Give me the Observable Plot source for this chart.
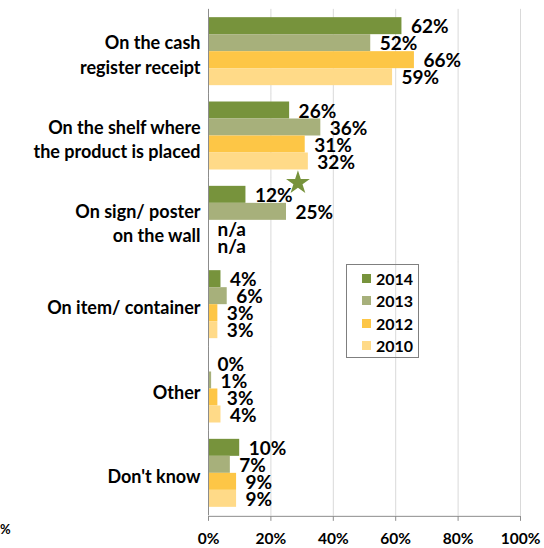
<!DOCTYPE html>
<html>
<head>
<meta charset="utf-8">
<script src="https://cdn.jsdelivr.net/npm/d3@7"></script>
<script src="https://cdn.jsdelivr.net/npm/@observablehq/plot@0.6"></script>
<style>
  html, body { margin: 0; padding: 0; background: #fff; }
  #wrap { position: relative; width: 544px; height: 548px; overflow: hidden; font-family: Lato, "Open Sans", sans-serif; font-weight: bold; }
  #legend { position: absolute; left: 346px; top: 264px; width: 73px; height: 94px; border: 1px solid #7f7f7f; box-sizing: border-box; padding-top: 2px; }
  .item { display: flex; align-items: center; height: 22.5px; font-size: 16px; color: #000; }
  .sw { width: 9px; height: 9px; margin-left: 15px; margin-right: 5px; }
  #stray { position: absolute; left: 0px; top: 521px; font-size: 13px; }
</style>
</head>
<body>
<div id="wrap">
  <div id="chart"></div>
  <div id="legend"></div>
  <div id="stray">%</div>
</div>
<script>
const categories = [
  "On the cash\nregister receipt",
  "On the shelf where\nthe product is placed",
  "On sign/ poster\non the wall",
  "On item/ container",
  "Other",
  "Don't know"
];
const years = ["2014", "2013", "2012", "2010"];
const values2014 = [62, 26, 12, 4, 0, 10];
const values2013 = [52, 36, 25, 6, 1, 7];
const values2012 = [66, 31, null, 3, 3, 9];
const values2010 = [59, 32, null, 3, 4, 9];
const colors = ["#77933C", "#A7B07B", "#FDC646", "#FFDA88"];
const xTicks = [0, 20, 40, 60, 80, 100];
const starred = [{category: categories[2], year: "2014", value: 12}];

const series = [values2014, values2013, values2012, values2010];
const data = [];
categories.forEach((c, i) => years.forEach((yr, j) => data.push({category: c, year: yr, value: series[j][i]})));

const gap = 7.3;
const chart = Plot.plot({
  width: 544,
  height: 548,
  marginTop: 9,
  marginBottom: 33,
  marginLeft: 208,
  marginRight: 24,
  style: {fontFamily: "Lato, 'Open Sans', sans-serif", fontWeight: "bold", color: "#000", background: "transparent"},
  x: {domain: [0, 100], axis: null, label: null},
  y: {domain: years, axis: null, padding: 0},
  fy: {domain: categories, axis: null, paddingInner: 0.17, paddingOuter: 0.085, round: false},
  color: {domain: years, range: colors},
  marks: [
    Plot.ruleX(xTicks.slice(1), {x: d => d, stroke: "#d9d9d9", insetTop: -gap, insetBottom: -gap}),
    Plot.barX(data.filter(d => d.value != null), {x: "value", y: "year", fy: "category", fill: "year"}),
    Plot.ruleX([0], {x: d => d, stroke: "#8c8c8c", insetTop: -gap, insetBottom: -gap}),
    Plot.text(data, {
      x: d => d.value ?? 0, y: "year", fy: "category",
      text: d => d.value == null ? "n/a" : d.value + "%",
      textAnchor: "start", dx: 9, dy: 1, fontSize: 19, fill: "#000"
    }),
    Plot.dot(starred, {x: "value", y: "year", fy: "category", symbol: "star", r: 7.5, fill: "#77933C", dx: 52, dy: -12}),
    Plot.text(categories, {
      fy: d => d, text: d => d, frameAnchor: "left", textAnchor: "end",
      dx: -8, dy: 2, fontSize: 18, lineHeight: 1.35, fill: "#000"
    }),
    Plot.frame({anchor: "bottom", facetAnchor: "bottom", stroke: "#8c8c8c", dy: 8}),
    Plot.axisX(xTicks, {
      anchor: "bottom", label: null, tickFormat: d => d + "%", tickSize: 5, tickPadding: 12,
      fontSize: 15.5, stroke: "#8c8c8c", fill: "#000", dy: 8
    })
  ]
});
document.getElementById("chart").appendChild(chart);

const legend = document.getElementById("legend");
years.forEach((yr, i) => {
  const item = document.createElement("div");
  item.className = "item";
  const sw = document.createElement("span");
  sw.className = "sw";
  sw.style.background = colors[i];
  const t = document.createElement("span");
  t.textContent = yr;
  item.appendChild(sw);
  item.appendChild(t);
  legend.appendChild(item);
});
</script>
</body>
</html>
